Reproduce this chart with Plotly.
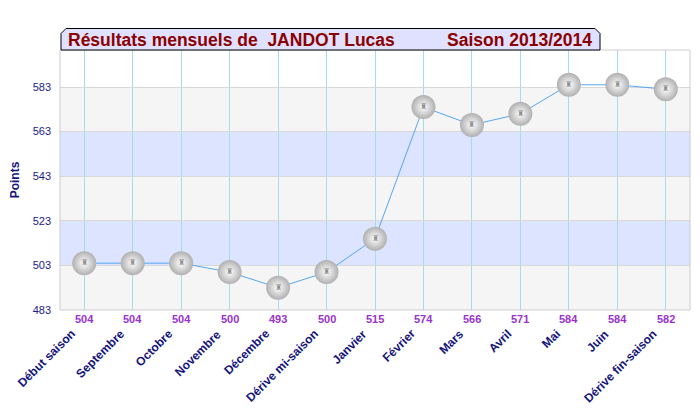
import plotly.graph_objects as go

categories = ["Début saison", "Septembre", "Octobre", "Novembre", "Décembre",
              "Dérive mi-saison", "Janvier", "Février", "Mars", "Avril", "Mai",
              "Juin", "Dérive fin-saison"]
points = [504, 504, 504, 500, 493, 500, 515, 574, 566, 571, 584, 584, 582]
y_ticks = [483, 503, 523, 543, 563, 583]
bands = [(483, 503, "#f5f5f5"), (503, 523, "#dde4ff"), (523, 543, "#f5f5f5"),
         (543, 563, "#dde4ff"), (563, 583, "#f5f5f5")]
y_min, y_max = 483, 599.6

FONT = "Arial, Liberation Sans, sans-serif"
x = list(range(len(categories)))

# page body has an 8px margin: figure occupies x 8..700, y 8..420 of the window
OFF = 8
W, H = 700 - OFF, 420 - OFF
l, r, t, b = 60 - OFF, 10, 50 - OFF, 110
pw, ph = W - l - r, H - t - b
def px(xw): return (xw - OFF - l) / pw
def py(yw): return (H - b - (yw - OFF)) / ph

fig = go.Figure()
fig.add_trace(go.Scatter(
    x=x, y=points, mode="lines+markers",
    line=dict(color="#55a6f2", width=1),
    marker=dict(size=24, color="#b0b0b0",
                gradient=dict(type="radial", color="#ffffff"),
                line=dict(width=0)),
    hoverinfo="skip", showlegend=False))
fig.add_trace(go.Scatter(
    x=x, y=points, mode="text", text=["♜"] * len(x),
    textfont=dict(size=8, color="#8a8a8a"), hoverinfo="skip", showlegend=False))

shapes = []
for lo, hi, c in bands:
    shapes.append(dict(type="rect", xref="paper", yref="y", x0=0, x1=1, y0=lo, y1=hi,
                       fillcolor=c, line=dict(width=0), layer="below"))
shapes.append(dict(type="rect", xref="paper", yref="paper", x0=0, x1=1, y0=0, y1=1,
                   line=dict(color="#cccccc", width=1), fillcolor="rgba(0,0,0,0)"))
# title box (chamfered top corners), window pixel coords
x0, x1, y0, y1, c = 61, 600, 28.5, 50, 5
path = (f"M {px(x0)} {py(y1)} L {px(x0)} {py(y0 + c)} L {px(x0 + c)} {py(y0)} "
        f"L {px(x1 - c)} {py(y0)} L {px(x1)} {py(y0 + c)} L {px(x1)} {py(y1)} Z")
shapes.append(dict(type="path", xref="paper", yref="paper", path=path,
                   fillcolor="#e0e0ff", line=dict(color="#000000", width=1), layer="above"))

annotations = [
    dict(xref="paper", yref="paper", x=px(66), y=py(40), xanchor="left", yanchor="middle",
         text="<b>Résultats mensuels de  JANDOT Lucas</b>", showarrow=False,
         font=dict(family=FONT, size=17.5, color="#8b0000")),
    dict(xref="paper", yref="paper", x=px(594), y=py(40), xanchor="right", yanchor="middle",
         text="<b>Saison 2013/2014</b>", showarrow=False,
         font=dict(family=FONT, size=17.5, color="#8b0000")),
]
for xi, v, cat in zip(x, points, categories):
    annotations.append(dict(x=xi, xref="x", y=0, yref="paper", yanchor="top", yshift=-1,
                            text=f"<b>{v}</b>", showarrow=False,
                            font=dict(family=FONT, size=11, color="#9933cc")))
    annotations.append(dict(x=xi, xref="x", y=0, yref="paper", xanchor="right", yanchor="top",
                            xshift=-3, yshift=-14, textangle=-45,
                            text=f"<b>{cat}</b>", showarrow=False,
                            font=dict(family=FONT, size=12, color="#14147a")))

fig.update_layout(
    width=W, height=H, margin=dict(l=l, r=r, t=t, b=b, autoexpand=False),
    paper_bgcolor="white", plot_bgcolor="white",
    font=dict(family=FONT),
    shapes=shapes, annotations=annotations,
    xaxis=dict(range=[-0.5, len(categories) - 0.5], tickmode="array", tickvals=x,
               showticklabels=False,
               showgrid=True, gridcolor="#a6dbe8", gridwidth=1, zeroline=False,
               ticks="", automargin=False),
    yaxis=dict(range=[y_min, y_max], tickmode="array", tickvals=y_ticks,
               tickfont=dict(family=FONT, size=11, color="#1a1a8c"),
               showgrid=True, gridcolor="#d8d8d8", gridwidth=1, zeroline=False,
               ticks="", ticklabelstandoff=8, automargin=False,
               title=dict(text="<b>Points</b>", standoff=22,
                          font=dict(family=FONT, size=12, color="#14147a"))),
)
fig.write_html("out.html")
